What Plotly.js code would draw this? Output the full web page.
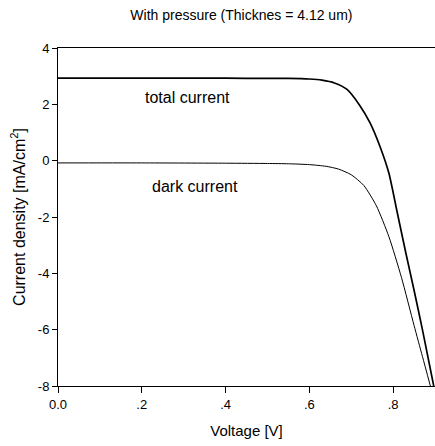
<!DOCTYPE html>
<html>
<head>
<meta charset="utf-8">
<script src="https://cdn.plot.ly/plotly-3.0.1.min.js"></script>
<style>html,body{margin:0;padding:0;background:#fff;}#chart{width:435px;height:446px;}</style>
</head>
<body>
<div id="chart"></div>
<script>
const totalVoltage = [0, 0.1, 0.2, 0.3, 0.4, 0.5, 0.55, 0.6, 0.63, 0.66, 0.69, 0.72, 0.745, 0.77, 0.79, 0.81, 0.83, 0.85, 0.87, 0.897];
const totalCurrent = [2.93, 2.93, 2.93, 2.93, 2.93, 2.92, 2.92, 2.90, 2.86, 2.76, 2.53, 1.97, 1.34, 0.45, -0.45, -1.85, -3.25, -4.6, -6.0, -8.0];
const darkVoltage = [0, 0.2, 0.4, 0.5, 0.55, 0.6, 0.64, 0.67, 0.7, 0.73, 0.76, 0.79, 0.82, 0.85, 0.87, 0.889];
const darkCurrent = [-0.08, -0.08, -0.09, -0.1, -0.11, -0.14, -0.2, -0.3, -0.5, -0.88, -1.6, -2.7, -4.15, -5.85, -6.95, -8.0];
const xTickVals = [0, 0.2, 0.4, 0.6, 0.8];
const xTickText = ["0.0", ".2", ".4", ".6", ".8"];
const yTickVals = [4, 2, 0, -2, -4, -6, -8];
const yTickText = ["4", "2", "0", "-2", "-4", "-6", "-8"];

const fam = "Liberation Sans, Arial, sans-serif";
const f = (s) => ({family: fam, size: s, color: "#000"});
const data = [
  {x: totalVoltage, y: totalCurrent, type: "scatter", mode: "lines", line: {color: "#000", width: 1.7, shape: "spline", smoothing: 0.6}, hoverinfo: "skip"},
  {x: darkVoltage, y: darkCurrent, type: "scatter", mode: "lines", line: {color: "#000", width: 1, shape: "spline", smoothing: 0.6}, hoverinfo: "skip"}
];
const layout = {
  width: 435, height: 446,
  margin: {l: 58, r: 0, t: 48, b: 60},
  paper_bgcolor: "#fff", plot_bgcolor: "#fff",
  showlegend: false,
  font: f(13),
  title: {text: "With pressure (Thicknes = 4.12 um)", x: 0.555, xanchor: "center", y: 0.967, yanchor: "middle", font: f(14)},
  xaxis: {
    range: [0, 0.9], tickvals: xTickVals, ticktext: xTickText,
    showgrid: false, zeroline: false, showline: true, linecolor: "#000", linewidth: 1,
    mirror: true, ticks: "outside", ticklen: 6, tickcolor: "#000",
    tickfont: f(13),
    title: {text: "Voltage [V]", font: f(15), standoff: 14}
  },
  yaxis: {
    range: [-8, 4], tickvals: yTickVals, ticktext: yTickText,
    showgrid: false, zeroline: false, showline: true, linecolor: "#000", linewidth: 1,
    mirror: false, ticks: "outside", ticklen: 5, tickcolor: "#000",
    tickfont: f(13),
    title: {text: "Current density [mA/cm<sup>2</sup>]", font: f(16), standoff: 8}
  },
  annotations: [
    {x: 0.309, y: 2.26, xref: "x", yref: "y", text: "total current", showarrow: false, font: f(16)},
    {x: 0.328, y: -0.9, xref: "x", yref: "y", text: "dark current", showarrow: false, font: f(16)}
  ]
};
Plotly.newPlot("chart", data, layout, {staticPlot: true, displayModeBar: false});
</script>
</body>
</html>
